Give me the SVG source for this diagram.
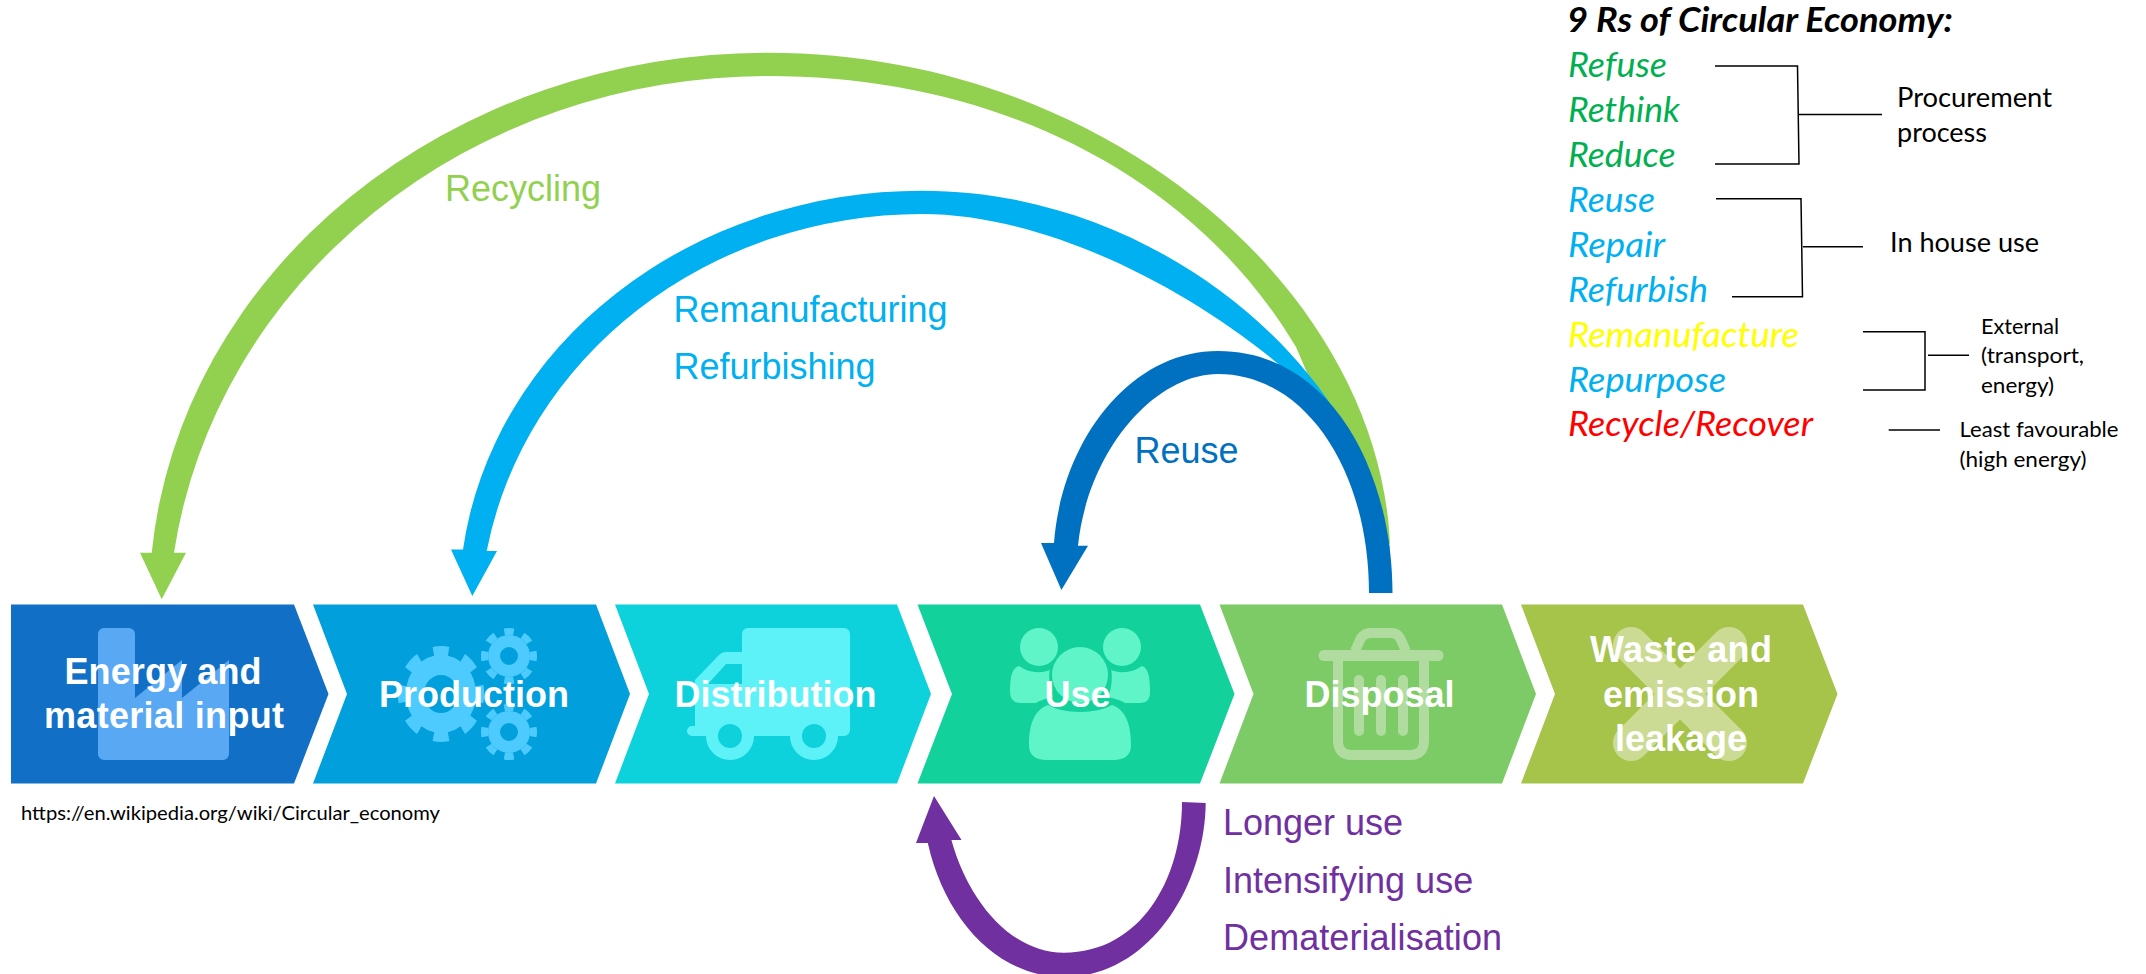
<svg xmlns="http://www.w3.org/2000/svg" width="2146" height="974" viewBox="0 0 2146 974">
<style>
.n{font-family:"Liberation Sans",Arial,sans-serif;font-weight:700;font-size:36px;fill:#fff;text-anchor:middle}
.l{font-family:"Liberation Sans",Arial,sans-serif;font-size:36px}
.c{font-family:Lato,"Open Sans",sans-serif;fill:#000}
.i{font-family:Lato,"Open Sans",sans-serif;font-style:italic;font-size:34px}
.k{stroke:#000;stroke-width:1.5;fill:none}
</style>
<rect width="2146" height="974" fill="#fff"/>
<g id="chevron-energy"><path d="M11,604.5H294L328.5,694L294,783.5H11Z" fill="#116fc6"/>
<path d="M98,634a6,6 0 0 1 6,-6H129a6,6 0 0 1 6,6V698L182,660V698L229,660V754a6,6 0 0 1 -6,6H104a6,6 0 0 1 -6,-6Z" fill="#58a8f4"/>
<text class="n" x="163" y="684" textLength="197">Energy and</text><text class="n" x="164" y="728" textLength="240">material input</text></g>
<g id="chevron-production"><path d="M313,604.5H596L630,694L596,783.500H313L347,694Z" fill="#019fdb"/>
<g fill="none" stroke="#4dcbff"><g transform="translate(441,694) scale(.9,1)"><circle r="29" stroke-width="20"/><circle r="43" stroke-width="10" pathLength="16" stroke-dasharray="1 1" stroke-dashoffset=".5"/></g>
<g transform="translate(509,656)"><circle r="15" stroke-width="12"/><circle r="24.500" stroke-width="7" pathLength="16" stroke-dasharray="1 1" stroke-dashoffset=".5"/></g>
<g transform="translate(509,732)"><circle r="15" stroke-width="12"/><circle r="24.500" stroke-width="7" pathLength="16" stroke-dasharray="1 1" stroke-dashoffset=".5"/></g></g>
<text class="n" x="474" y="706.500">Production</text></g>
<g id="chevron-distribution"><path d="M615,604.5H897L931,694L897,783.500H615L649,694Z" fill="#0dd2dc"/>
<path d="M742,634a6,6 0 0 1 6,-6H844a6,6 0 0 1 6,6V730a6,6 0 0 1 -6,6H838a24,24 0 0 1 -48,0H754a24,24 0 0 1 -48,0H692a5,5 0 0 1 0,-10H695V680L719,655Q722,652 726,652H742Z" fill="#5df2f8"/>
<path d="M742,664H726L708,684H742Z" fill="#0dd2dc"/>
<ellipse cx="730" cy="736" rx="12" ry="12" fill="#0dd2dc"/><ellipse cx="814" cy="736" rx="12" ry="12" fill="#0dd2dc"/>
<text class="n" x="775.500" y="706.500">Distribution</text></g>
<g id="chevron-use"><path d="M917.500,604.5H1200L1234.500,694L1200,783.500H917.500L952,694Z" fill="#12d19b"/>
<g fill="#5ff5c9"><ellipse cx="1039" cy="647" rx="19" ry="19"/><ellipse cx="1122" cy="647" rx="19" ry="19"/>
<path d="M1019,666Q1032,675 1047,671Q1050,671 1050,668C1048,680 1050,690 1053,697Q1040,700 1036,703H1021Q1010,703 1010,692C1010,680 1011,668 1019,666Z"/>
<path d="M1142,666Q1129,675 1114,671Q1111,671 1111,668C1113,680 1111,690 1108,697Q1121,700 1125,703H1140Q1150,703 1150,692C1150,680 1149,668 1142,666Z"/>
<ellipse cx="1080" cy="675" rx="28" ry="28"/><path d="M1048,705Q1060,712 1080,712Q1100,712 1112,705C1126,710 1131,725 1131,745Q1131,760 1113,760H1047Q1029,760 1029,745C1029,725 1034,710 1048,705Z"/></g>
<text class="n" x="1077.500" y="706.500">Use</text></g>
<g id="chevron-disposal"><path d="M1219.500,604.5H1502L1536,694L1502,783.500H1219.500L1253.500,694Z" fill="#7dcb66"/>
<g fill="none" stroke="#b0dd9f"><path d="M1324,655.500H1438" stroke-width="11" stroke-linecap="round"/><path d="M1355,651L1361,638Q1365,633 1370,633H1392Q1397,633 1400,638L1406,651" stroke-width="10"/><path d="M1338,661V740Q1338,755 1352,755H1410Q1424,755 1424,740V661" stroke-width="10"/><path d="M1359,680V731M1381,680V731M1403,680V731" stroke-width="10" stroke-linecap="round"/></g>
<text class="n" x="1379.500" y="706.500">Disposal</text></g>
<g id="chevron-waste"><path d="M1521,604.5H1803L1837.500,694L1803,783.500H1521L1555,694Z" fill="#a6c34a"/>
<path d="M1631,645L1729,743M1729,645L1631,743" stroke="#ccdb93" stroke-width="36" stroke-linecap="round"/>
<text class="n" x="1681" y="662" textLength="182">Waste and</text><text class="n" x="1681" y="706.500">emission</text><text class="n" x="1681" y="751">leakage</text></g>
<g id="connectors">
<path id="recycling-arc" d="M1390,545C1380,290 1105,52.700 768,52.700A619,550 0 0 0 151.700,552.700H140L161.700,599.300L186,552.700H174A600,555 0 0 1 768,76C990,76 1190,170 1296,347L1340,450Z" fill="#92d050"/>
<path id="remanufacturing-arc" d="M1390,550C1365,370 1160,190.700 922.400,190.700A463,411 0 0 0 463,549.500H451L472.300,596L497,551H486.700A442,410 0 0 1 922,214C1040,214 1180,282 1279.600,365L1330,430Z" fill="#00b0f0"/>
<path id="reuse-arc" d="M1392.500,593C1392.500,470 1330,351 1218,351C1130,351 1062,440 1054,543H1041L1061.400,590L1088,545.700H1078C1088,450 1155,374 1218,374C1305,374 1369,470 1369,593Z" fill="#0070c0"/>
<path id="use-loop" d="M1182,802C1182,880 1140,952.500 1064,952.700C1010,952.700 968,900 951.400,840H961.500L934,796L916,843H927.800C945,920 998,977 1064,977C1150,977 1205,885 1205.700,803Z" fill="#7030a0"/>
</g>
<g id="labels">
<text class="l" fill="#92d050" x="445" y="200.500">Recycling</text>
<text class="l" fill="#00b0f0" x="673.500" y="321.700" textLength="274">Remanufacturing</text>
<text class="l" fill="#00b0f0" x="673.500" y="378.500">Refurbishing</text>
<text class="l" fill="#0070c0" x="1134.500" y="462.500">Reuse</text>
<g fill="#7030a0"><text class="l" x="1223" y="835">Longer use</text><text class="l" x="1223" y="893">Intensifying use</text><text class="l" x="1223" y="950" textLength="279">Dematerialisation</text></g>
<text class="c" x="21" y="820" font-size="20" textLength="419" lengthAdjust="spacingAndGlyphs">https://en.wikipedia.org/wiki/Circular_economy</text>
</g>
<g id="rs-list">
<text class="i" x="1567" y="32" font-weight="700" style="font-size:35px" textLength="386" lengthAdjust="spacingAndGlyphs">9 Rs of Circular Economy:</text>
<g fill="#00b050"><text class="i" x="1568" y="77" textLength="99" lengthAdjust="spacingAndGlyphs">Refuse</text><text class="i" x="1568" y="122" textLength="112" lengthAdjust="spacingAndGlyphs">Rethink</text><text class="i" x="1568" y="167" textLength="107.500" lengthAdjust="spacingAndGlyphs">Reduce</text></g>
<g fill="#00b0f0"><text class="i" x="1568" y="212" textLength="87" lengthAdjust="spacingAndGlyphs">Reuse</text><text class="i" x="1568" y="257" textLength="97" lengthAdjust="spacingAndGlyphs">Repair</text><text class="i" x="1568" y="302" textLength="140" lengthAdjust="spacingAndGlyphs">Refurbish</text></g>
<text class="i" fill="#ffff00" x="1568" y="347" textLength="231" lengthAdjust="spacingAndGlyphs">Remanufacture</text>
<text class="i" fill="#00b0f0" x="1568" y="392" textLength="158" lengthAdjust="spacingAndGlyphs">Repurpose</text>
<text class="i" fill="#ff0000" x="1568" y="436" textLength="245" lengthAdjust="spacingAndGlyphs">Recycle/Recover</text>
</g>
<g id="brackets">
<path class="k" d="M1715,66H1797.500L1799,164H1715M1799,114.500H1882"/>
<path class="k" d="M1716,198.700H1801L1802.500,296.700H1732M1803,246.700H1863"/>
<path class="k" d="M1863,331.700H1925V390H1863M1928,355.300H1969"/>
<path class="k" d="M1888.700,430H1940"/>
<g class="c"><text x="1897" y="106.700" font-size="27" textLength="155" lengthAdjust="spacingAndGlyphs">Procurement</text><text x="1897" y="141.700" font-size="27" textLength="90" lengthAdjust="spacingAndGlyphs">process</text>
<text x="1890" y="251.700" font-size="27" textLength="149" lengthAdjust="spacingAndGlyphs">In house use</text>
<g font-size="21"><text x="1981" y="334.300" textLength="78" lengthAdjust="spacingAndGlyphs">External</text><text x="1981" y="363" textLength="103" lengthAdjust="spacingAndGlyphs">(transport,</text><text x="1981" y="392.700" textLength="73" lengthAdjust="spacingAndGlyphs">energy)</text>
<text x="1959.500" y="437" textLength="159" lengthAdjust="spacingAndGlyphs">Least favourable</text><text x="1959.500" y="466.700" textLength="127" lengthAdjust="spacingAndGlyphs">(high energy)</text></g></g>
</g>
</svg>
